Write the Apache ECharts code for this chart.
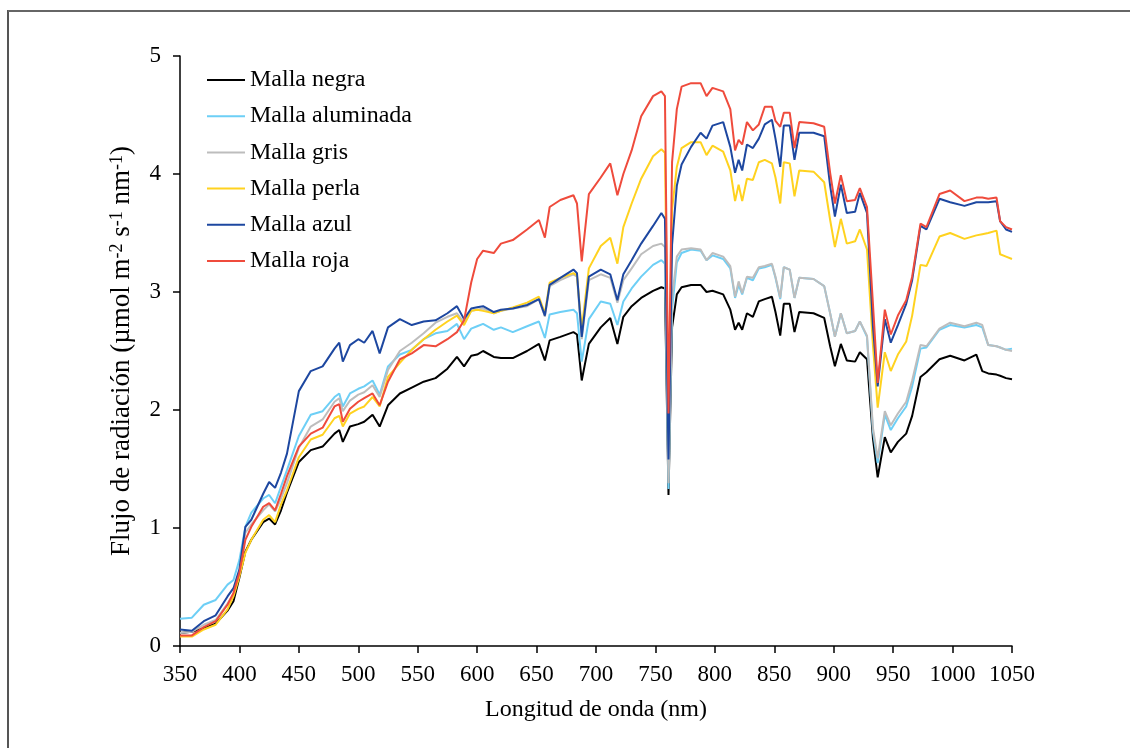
<!DOCTYPE html>
<html><head><meta charset="utf-8">
<script src="https://cdn.jsdelivr.net/npm/echarts@6/dist/echarts.min.js"></script>
<style>html,body{margin:0;padding:0;background:#fff}#c{width:1130px;height:748px}</style>
</head><body><div id="c"></div>
<script>
const wavelengths = [350,360,370,380,390,395,400,405,410,420,
425,430,435,440,450,460,470,480,484,487,
493,500,505,512,518,525,535,545,555,565,
575,583,589,595,600,605,614,620,630,642,
652,657,661,670,681,684,688,694,704,712,
718,723,730,738,748,755,758,761,764,768,
772,780,788,793,798,807,813,817,820,823,
827,832,837,842,848,851,855,858,863,867,
871,883,892,897,901,906,911,918,922,928,
933,937,943,948,954,961,966,973,978,989,
998,1010,1020,1025,1030,1037,1040,1045,1050];

const negra = [0.11,0.12,0.15,0.19,0.30,0.38,0.58,0.80,0.90,1.05,
1.08,1.03,1.15,1.30,1.56,1.66,1.69,1.80,1.83,1.73,
1.86,1.88,1.90,1.96,1.86,2.04,2.14,2.19,2.24,2.27,
2.35,2.45,2.37,2.46,2.47,2.50,2.45,2.44,2.44,2.50,
2.56,2.42,2.59,2.62,2.66,2.64,2.25,2.56,2.70,2.78,
2.56,2.79,2.88,2.95,3.01,3.04,3.03,1.28,2.70,2.98,
3.04,3.06,3.06,3.00,3.01,2.98,2.85,2.68,2.74,2.68,
2.82,2.79,2.92,2.94,2.96,2.83,2.63,2.90,2.90,2.66,
2.83,2.82,2.78,2.54,2.37,2.56,2.42,2.41,2.49,2.43,
1.76,1.43,1.77,1.64,1.73,1.80,1.95,2.28,2.32,2.43,
2.46,2.42,2.47,2.33,2.31,2.30,2.29,2.27,2.26];

const aluminada = [0.23,0.24,0.35,0.39,0.52,0.56,0.73,1.01,1.13,1.25,
1.28,1.21,1.35,1.49,1.78,1.96,1.99,2.11,2.14,2.03,
2.14,2.18,2.20,2.25,2.13,2.37,2.47,2.51,2.60,2.65,
2.67,2.73,2.60,2.69,2.71,2.73,2.68,2.70,2.66,2.71,
2.75,2.61,2.81,2.83,2.85,2.82,2.41,2.77,2.92,2.90,
2.72,2.92,3.03,3.13,3.23,3.27,3.24,1.33,2.85,3.25,
3.33,3.36,3.35,3.27,3.31,3.28,3.20,2.95,3.06,2.98,
3.12,3.10,3.20,3.21,3.23,3.12,2.94,3.21,3.19,2.95,
3.12,3.11,3.05,2.82,2.62,2.82,2.65,2.67,2.75,2.62,
1.82,1.55,1.96,1.83,1.93,2.03,2.20,2.52,2.53,2.68,
2.72,2.70,2.72,2.70,2.55,2.54,2.53,2.51,2.52];

const gris = [0.11,0.12,0.18,0.22,0.36,0.44,0.63,0.96,1.03,1.15,
1.20,1.14,1.25,1.38,1.68,1.86,1.92,2.07,2.10,1.99,
2.08,2.13,2.15,2.21,2.11,2.34,2.50,2.57,2.65,2.74,
2.79,2.82,2.74,2.84,2.85,2.86,2.82,2.84,2.86,2.88,
2.94,2.79,3.05,3.10,3.15,3.13,2.60,3.10,3.15,3.12,
2.91,3.10,3.20,3.32,3.39,3.41,3.38,1.38,2.95,3.30,
3.36,3.37,3.36,3.27,3.33,3.30,3.22,2.96,3.09,2.99,
3.13,3.12,3.21,3.22,3.24,3.13,2.95,3.21,3.19,2.95,
3.12,3.11,3.05,2.82,2.62,2.82,2.65,2.67,2.75,2.63,
1.85,1.59,1.99,1.87,1.97,2.07,2.25,2.55,2.54,2.69,
2.74,2.71,2.74,2.72,2.55,2.54,2.53,2.51,2.50];

const perla = [0.08,0.08,0.14,0.18,0.31,0.42,0.59,0.79,0.90,1.07,
1.11,1.05,1.20,1.32,1.60,1.75,1.79,1.93,1.95,1.86,
1.97,2.01,2.03,2.11,2.03,2.28,2.40,2.51,2.60,2.68,
2.75,2.80,2.72,2.84,2.85,2.84,2.82,2.84,2.87,2.91,
2.96,2.82,3.08,3.12,3.16,3.14,2.69,3.20,3.39,3.46,
3.24,3.55,3.75,3.96,4.15,4.21,4.18,1.93,3.70,4.06,
4.22,4.27,4.27,4.16,4.24,4.19,4.03,3.77,3.91,3.77,
3.96,3.95,4.10,4.12,4.09,3.97,3.75,4.10,4.09,3.81,
4.03,4.02,3.93,3.61,3.38,3.62,3.41,3.43,3.53,3.36,
2.55,2.02,2.49,2.33,2.47,2.58,2.80,3.23,3.22,3.47,
3.50,3.45,3.48,3.49,3.50,3.52,3.32,3.30,3.28];

const azul = [0.14,0.13,0.21,0.26,0.42,0.49,0.65,1.01,1.07,1.29,
1.39,1.34,1.47,1.63,2.16,2.33,2.37,2.52,2.57,2.41,
2.55,2.60,2.57,2.67,2.48,2.70,2.77,2.72,2.75,2.76,
2.82,2.88,2.77,2.86,2.87,2.88,2.83,2.85,2.86,2.89,
2.94,2.80,3.06,3.12,3.19,3.16,2.62,3.13,3.19,3.15,
2.93,3.15,3.27,3.41,3.56,3.67,3.62,1.58,3.40,3.90,
4.08,4.23,4.35,4.30,4.41,4.44,4.23,4.01,4.12,4.03,
4.25,4.22,4.30,4.42,4.46,4.30,4.06,4.41,4.41,4.12,
4.35,4.35,4.32,3.90,3.64,3.91,3.67,3.68,3.84,3.67,
2.71,2.20,2.77,2.57,2.72,2.90,3.10,3.56,3.53,3.79,
3.76,3.73,3.76,3.76,3.76,3.77,3.60,3.53,3.51];

const roja = [0.09,0.09,0.16,0.21,0.35,0.45,0.62,0.90,1.01,1.18,
1.21,1.15,1.29,1.44,1.69,1.80,1.85,2.03,2.05,1.90,
2.01,2.07,2.10,2.14,2.04,2.24,2.43,2.48,2.55,2.54,
2.60,2.66,2.76,3.08,3.28,3.35,3.33,3.41,3.44,3.53,
3.61,3.46,3.72,3.78,3.82,3.75,3.26,3.83,3.97,4.09,
3.82,4.00,4.20,4.49,4.66,4.70,4.66,1.97,4.10,4.55,
4.74,4.77,4.77,4.66,4.73,4.70,4.55,4.20,4.29,4.25,
4.44,4.37,4.42,4.57,4.57,4.45,4.40,4.52,4.52,4.22,
4.44,4.43,4.40,4.01,3.75,3.99,3.77,3.78,3.88,3.72,
2.90,2.23,2.85,2.64,2.80,2.93,3.13,3.58,3.55,3.83,
3.86,3.77,3.80,3.80,3.79,3.80,3.60,3.55,3.53];

const seriesNames = ['Malla negra','Malla aluminada','Malla gris','Malla perla','Malla azul','Malla roja'];
const seriesValues = [negra, aluminada, gris, perla, azul, roja];
const seriesColors = ['#000000','#6DCFF6','#BDBDBD','#FFD21F','#1D47A0','#EF4B3C'];
const xTicks = {min:350, max:1050, interval:50};
const yTicks = {min:0, max:5, interval:1};

const FONT = 'Liberation Serif';
const chart = echarts.init(document.getElementById('c'));
chart.setOption({
  backgroundColor:'#fff',
  animation:false,
  grid:{left:180, right:118, top:56, bottom:102, containLabel:false},
  legend:{
    orient:'vertical', left:207, top:68, padding:0, itemWidth:38, itemHeight:2, itemGap:12.2,
    icon:'rect',
    textStyle:{fontFamily:FONT, fontSize:24, color:'#000', lineHeight:24},
    data:seriesNames
  },
  xAxis:{
    type:'value', min:xTicks.min, max:xTicks.max, interval:xTicks.interval,
    name:'Longitud de onda (nm)', nameLocation:'middle', nameGap:52,
    nameTextStyle:{fontFamily:FONT, fontSize:24, color:'#000'},
    axisLine:{onZero:false, lineStyle:{color:'#000', width:1.5}},
    axisTick:{inside:false, length:7, lineStyle:{color:'#000', width:1.5}},
    axisLabel:{fontFamily:FONT, fontSize:23, color:'#000', margin:17, formatter:v=>String(v)},
    splitLine:{show:false}
  },
  yAxis:{
    type:'value', min:yTicks.min, max:yTicks.max, interval:yTicks.interval,
    name:'Flujo de radiación (µmol m{s|-2} s{s|-1} nm{s|-1})',
    nameLocation:'middle', nameGap:41, nameRotate:90,
    nameTextStyle:{fontFamily:FONT, fontSize:27, color:'#000',
      rich:{s:{fontFamily:FONT, fontSize:18, verticalAlign:'top', lineHeight:18, padding:[0,0,12,0], color:'#000'}}},
    axisLine:{show:true, lineStyle:{color:'#000', width:1.5}},
    axisTick:{show:true, inside:false, length:7, lineStyle:{color:'#000', width:1.5}},
    axisLabel:{fontFamily:FONT, fontSize:23, color:'#000', margin:19},
    splitLine:{show:false}
  },
  graphic:[
    {type:'line', shape:{x1:8, y1:10, x2:8, y2:748}, style:{stroke:'#555', lineWidth:2}},
    {type:'line', shape:{x1:8, y1:11, x2:1130, y2:11}, style:{stroke:'#666', lineWidth:2}}
  ],
  series: seriesNames.map((n,i)=>({
    name:n, type:'line', showSymbol:false, symbol:'none',
    data: wavelengths.map((w,j)=>[w, seriesValues[i][j]]),
    lineStyle:{color:seriesColors[i], width:2},
    itemStyle:{color:seriesColors[i]}
  }))
});
</script></body></html>
